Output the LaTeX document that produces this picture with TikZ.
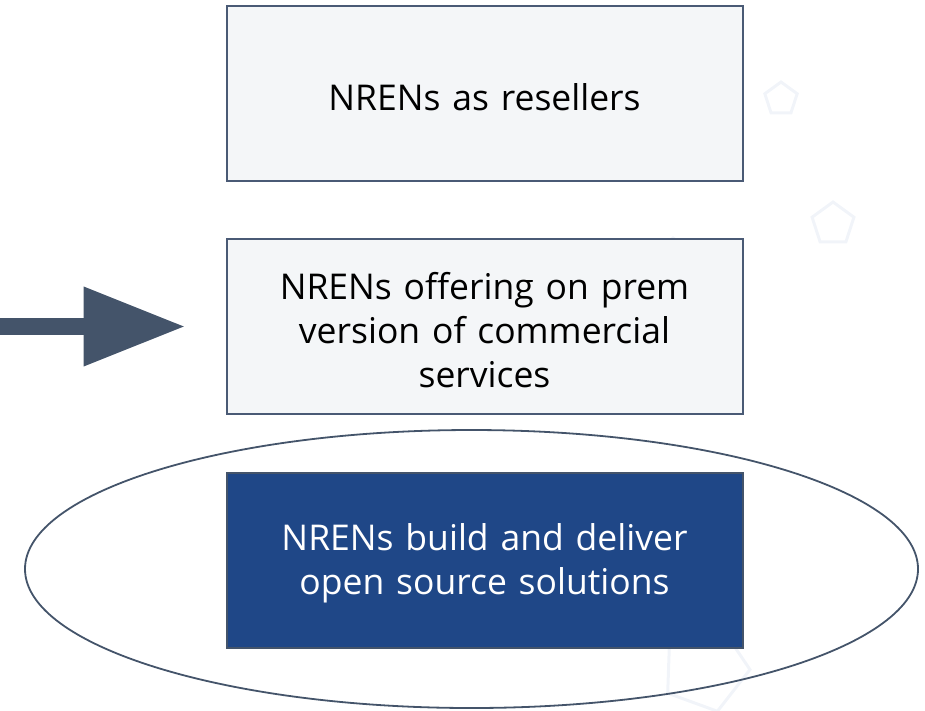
\documentclass[tikz,border=0pt]{standalone}
\usepackage{fontspec}
\setmainfont{Open Sans}
\usetikzlibrary{shapes.geometric,arrows.meta}
\definecolor{slate}{HTML}{44546A}
\definecolor{boxline}{HTML}{4A5A75}
\definecolor{paleface}{HTML}{F4F6F8}
\definecolor{deepblue}{HTML}{1F4787}
\definecolor{ghost}{HTML}{F1F4F9}

\begin{document}
\begin{tikzpicture}[x=1pt,y=-1pt,
  tier/.style={rectangle,draw=boxline,line width=2pt,minimum width=516pt,
    minimum height=175pt,text width=470pt,align=center,
    font=\fontsize{35.5}{44}\selectfont,execute at begin node={\rule{0pt}{34pt}}},
  pent/.style={regular polygon,regular polygon sides=5,draw=ghost,line width=3pt,inner sep=0pt}]
\useasboundingbox (0,0) rectangle (925,710);
\node [pent,minimum size=34pt] (p1) at (781,99) {};
\node [pent,minimum size=44pt] (p2) at (833,224) {};
\node [pent,minimum size=40pt] (p3) at (673,258) {};
\node [pent,minimum size=90pt,rotate=-20] (p4) at (705,668) {};
\node [ellipse,draw=slate,line width=1.8pt,minimum width=893pt,minimum height=278pt] (ring) at (471.5,569) {};
\node [tier,fill=paleface] (resell) at (484.5,93.5) {NRENs as resellers};
\node [tier,fill=paleface] (onprem) at (484.5,326.5) {NRENs offering on prem\\version of commercial\\services};
\node [tier,fill=deepblue,draw=slate,text=white] (opensrc) at (484.5,560) {NRENs build and deliver\\open source solutions};
\coordinate (start) at (0,326.5);
\draw [slate,line width=17pt,-{Triangle[length=102pt,width=75pt]},shorten >=40pt] (start) -- (onprem.west);
\end{tikzpicture}
\end{document}
